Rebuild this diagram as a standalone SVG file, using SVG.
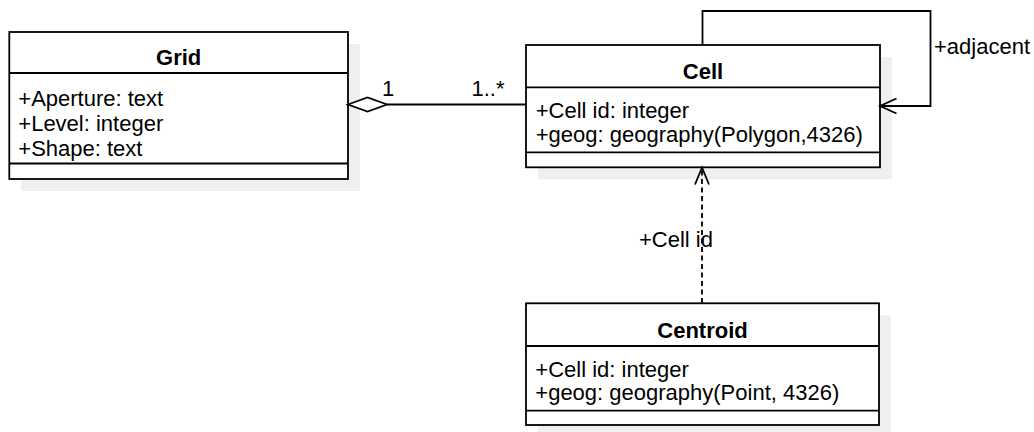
<svg xmlns="http://www.w3.org/2000/svg" width="1034" height="432" viewBox="0 0 1034 432">
  <style>
    .bg { fill: #ffffff; }
    .shadow { fill: #efefef; stroke: none; }
    .box { fill: #ffffff; stroke: #000000; stroke-width: 1.8; }
    .div { stroke: #000000; stroke-width: 1.8; fill: none; }
    .edge { fill: none; stroke: #000000; stroke-width: 1.8; }
    .head { fill: none; stroke: #000000; stroke-width: 1.8; }
    .diamond { fill: #ffffff; stroke: #000000; stroke-width: 1.8; }
    .dash { stroke-dasharray: 5 3.5; }
    text { font-family: "Liberation Sans", Arial, Helvetica, sans-serif; font-size: 22px; fill: #000000; }
    .title { font-weight: bold; text-anchor: middle; }
  </style>
  <rect class="bg" x="0" y="0" width="1034" height="432"/>

  <g id="grid">
    <rect class="shadow" x="21.3" y="44" width="338.7" height="147"/>
    <rect class="box" x="9.3" y="32" width="338.7" height="147"/>
    <line class="div" x1="9.3" y1="73" x2="348" y2="73"/>
    <line class="div" x1="9.3" y1="163.5" x2="348" y2="163.5"/>
    <text class="title" x="178.7" y="65">Grid</text>
    <text x="18.3" y="105.7">+Aperture: text</text>
    <text x="18.3" y="131">+Level: integer</text>
    <text x="18.3" y="155.7">+Shape: text</text>
  </g>

  <g id="cell">
    <rect class="shadow" x="538" y="57" width="354" height="122.3"/>
    <rect class="box" x="526" y="45" width="354" height="122.3"/>
    <line class="div" x1="526" y1="87.3" x2="880" y2="87.3"/>
    <line class="div" x1="526" y1="152.3" x2="880" y2="152.3"/>
    <text class="title" x="703" y="79.3">Cell</text>
    <text x="535.7" y="118.3">+Cell id: integer</text>
    <text x="535.7" y="141.5">+geog: geography(Polygon,4326)</text>
  </g>

  <g id="centroid">
    <rect class="shadow" x="538" y="315.3" width="353" height="121.7"/>
    <rect class="box" x="526" y="303.3" width="353" height="121.7"/>
    <line class="div" x1="526" y1="346" x2="879" y2="346"/>
    <line class="div" x1="526" y1="410.7" x2="879" y2="410.7"/>
    <text class="title" x="702.5" y="337.7">Centroid</text>
    <text x="535.3" y="377.3">+Cell id: integer</text>
    <text x="535.3" y="400">+geog: geography(Point, 4326)</text>
  </g>

  <g id="connectors">
    <path class="edge" d="M 387 104.5 L 526 104.5"/>
    <path class="diamond" d="M 348 104.5 L 367.5 97.5 L 387 104.5 L 367.5 111.5 Z"/>
    <text x="382" y="95.5">1</text>
    <text x="471.5" y="96">1..*</text>
    <path class="edge" d="M 702.5 45 V 11 H 930.5 V 106 H 880"/>
    <path class="head" d="M 896.5 98.5 L 880 106 L 896.5 113.5"/>
    <text x="934" y="54">+adjacent</text>
    <path class="edge dash" d="M 702 303 L 702 168"/>
    <path class="head" d="M 695 184.5 L 702 167.5 L 709 184.5"/>
    <text x="639" y="247">+Cell id</text>
  </g>
</svg>
